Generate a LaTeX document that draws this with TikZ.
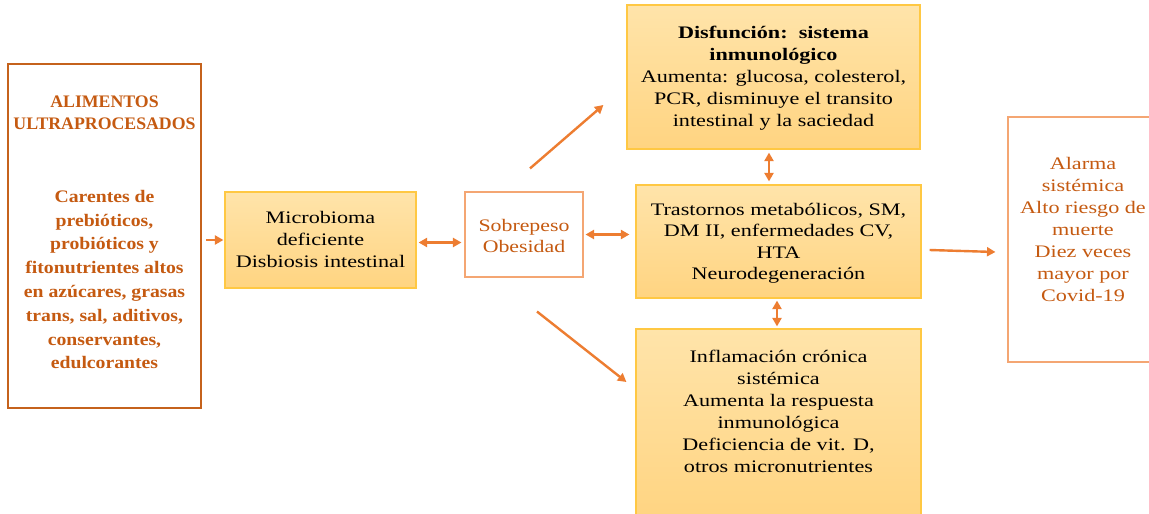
\documentclass[tikz,border=0pt]{standalone}
\usepackage{fontspec}
\setmainfont{Liberation Serif}
\usepackage{graphicx}
\usetikzlibrary{arrows.meta,calc}
\definecolor{arrowc}{HTML}{ED7D31}
\definecolor{goldc}{HTML}{FFC843}
\definecolor{filltop}{HTML}{FFE4AA}
\definecolor{fillbot}{HTML}{FFD481}
\definecolor{darkor}{HTML}{C55A11}
\definecolor{alimline}{HTML}{C5621C}
\definecolor{lightor}{HTML}{F4A673}
\newcommand{\txt}[3]{\scalebox{#1}[1]{\fontsize{17.6}{#2}\selectfont\begin{tabular}{@{}c@{}}#3\end{tabular}}}
\newcommand{\lift}[2]{\raisebox{#1}[\height][\depth]{#2}}
\begin{document}
\begin{tikzpicture}[x=1pt,y=-1pt,
  goldbox/.style={rectangle,draw=goldc,line width=1.2pt,top color=filltop,bottom color=fillbot,inner sep=0pt},
  orbox/.style={rectangle,draw=lightor,line width=1.1pt,fill=white,inner sep=0pt,text=darkor},
  alimbox/.style={rectangle,draw=alimline,line width=2.8pt,fill=white,inner sep=0pt,text=darkor},
  arr/.style={draw=arrowc,line width=2.4pt,-{Triangle[length=8.5pt,width=9pt]}},
  arrtwo/.style={draw=arrowc,line width=2.4pt,{Triangle[length=8.5pt,width=9pt]}-{Triangle[length=8.5pt,width=9pt]}}]
\useasboundingbox (0,0) rectangle (1149,514);
\fill[white] (0,0) rectangle (1149,514);

\node[alimbox,minimum width=193pt,minimum height=344pt] (alim) at (104.5,236)
 {\lift{2pt}{\begin{tabular}{@{}c@{}}\txt{1.01}{22}{\textbf{ALIMENTOS}\\\textbf{ULTRAPROCESADOS}}\\[63.7pt]
 \txt{1.12}{23.8}{\textbf{Carentes de}\\\textbf{prebióticos,}\\\textbf{probióticos y}\\\textbf{fitonutrientes altos}\\\textbf{en azúcares, grasas}\\\textbf{trans, sal, aditivos,}\\\textbf{conservantes,}\\\textbf{edulcorantes}}\end{tabular}}};

\node[goldbox,minimum width=191pt,minimum height=96pt] (micro) at (320.5,240)
 {\lift{-1pt}{\txt{1.26}{22}{Microbioma\\deficiente\\Disbiosis intestinal}}};

\node[orbox,minimum width=118pt,minimum height=85pt] (sobre) at (524,234.5)
 {\lift{-3pt}{\txt{1.24}{21}{Sobrepeso\\Obesidad}}};

\node[goldbox,minimum width=293pt,minimum height=144pt] (disf) at (773.5,77)
 {\lift{-1.5pt}{\txt{1.26}{22}{\textbf{Disfunción:\ \ sistema}\\\textbf{inmunológico}\\Aumenta: glucosa, colesterol,\\PCR, disminuye el transito\\intestinal y la saciedad}}};

\node[goldbox,minimum width=285pt,minimum height=113pt] (tras) at (778.5,241.5)
 {\lift{-1.5pt}{\txt{1.26}{21.5}{Trastornos metabólicos, SM,\\DM II, enfermedades CV,\\HTA\\Neurodegeneración}}};

\node[goldbox,minimum width=285pt,minimum height=191pt] (infl) at (778.5,424.5)
 {\lift{11pt}{\txt{1.26}{22}{Inflamación crónica\\sistémica\\Aumenta la respuesta\\inmunológica\\Deficiencia de vit. D,\\otros micronutrientes}}};

\node[orbox,minimum width=150pt,minimum height=245pt] (alarma) at (1083,239.5)
 {\lift{8.5pt}{\txt{1.26}{22}{Alarma\\sistémica\\Alto riesgo de\\muerte\\Diez veces\\mayor por\\Covid-19}}};

\draw[arr] ([xshift=4pt]alim.east |- micro.west) -- ([xshift=-1pt]micro.west);
\draw[arrtwo] ([xshift=2pt,yshift=-2.5pt]micro.east) -- ([xshift=-3pt,yshift=-2.5pt]micro.east -| sobre.west);
\draw[arrtwo] ([xshift=2pt]sobre.east) -- ([xshift=-6pt]sobre.east -| tras.west);
\draw[arr] ($(sobre.north)+(6,-23)$) -- ($(disf.west)+(-23,28)$);
\draw[arr] ($(sobre.south)+(13,34)$) -- ($(infl.west)+(-9,-42.5)$);
\draw[arrtwo] ([xshift=-4.5pt,yshift=-3pt]disf.south) -- ([xshift=-4.5pt,yshift=3pt]disf.south |- tras.north);
\draw[arrtwo] ([xshift=-1.5pt,yshift=-2pt]tras.south) -- ([xshift=-1.5pt,yshift=2pt]tras.south |- infl.north);
\draw[arr] ([xshift=8pt,yshift=-8.5pt]tras.east) -- ([xshift=-12pt,yshift=-12.5pt]alarma.west);
\end{tikzpicture}
\end{document}
